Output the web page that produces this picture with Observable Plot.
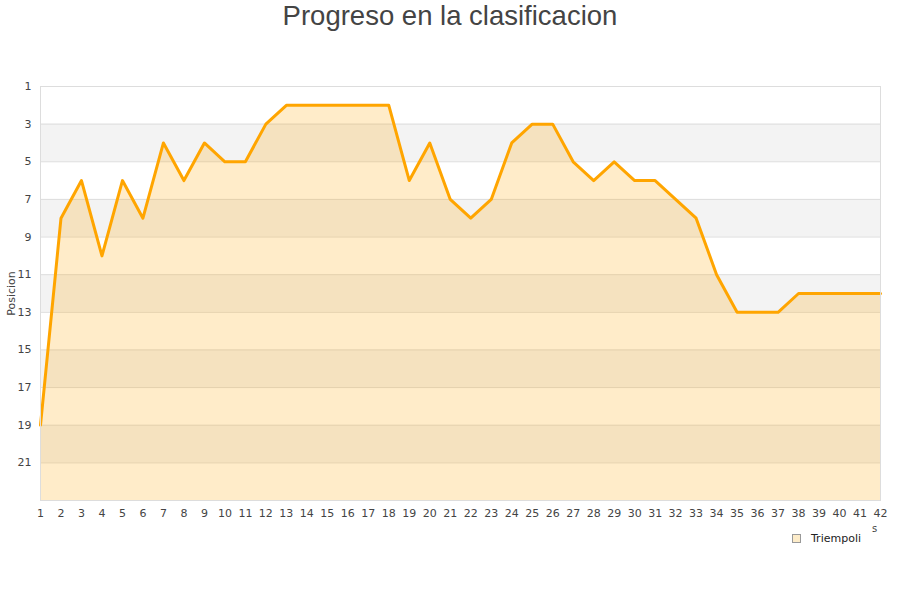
<!DOCTYPE html>
<html><head><meta charset="utf-8">
<script src="https://cdn.jsdelivr.net/npm/d3@7"></script>
<script src="https://cdn.jsdelivr.net/npm/@observablehq/plot@0.6"></script>
<style>
body{margin:0;background:#fff}
#wrap{position:relative;width:900px;height:600px;font-family:"DejaVu Sans",sans-serif;overflow:hidden}
#title{position:absolute;top:0;left:0;width:900px;text-align:center;font-family:"Liberation Sans",Arial,sans-serif;font-size:27.5px;color:#444;line-height:32px}
#chart{position:absolute;top:40px;left:0}
#legend{position:absolute;top:532px;left:792px;font-size:11px;color:#222;display:flex;align-items:center}
#legend .sw{width:7px;height:7px;border:1px solid #999;background:#fdecc9;margin-right:10px}
#xl{position:absolute;top:523px;left:872px;font-size:10px;color:#444}
</style></head>
<body>
<div id="wrap">
  <div id="title">Progreso en la clasificacion</div>
  <div id="chart"></div>
  <div id="legend"><span class="sw"></span><span>Triempoli</span></div>
  <div id="xl">s</div>
</div>
<script>
const jornadas = d3.range(1, 43);
const posiciones = [19,8,6,10,6,8,4,6,4,5,5,3,2,2,2,2,2,2,6,4,7,8,7,4,3,3,5,6,5,6,6,7,8,11,13,13,13,12,12,12,12,12];
const yTicks = [1,3,5,7,9,11,13,15,17,19,21];
const yBottom = 23;
const team = "Triempoli";

const data = jornadas.map((j, i) => ({j, pos: posiciones[i]}));
const bands = yTicks.filter((t, i) => i % 2 === 1).map(t => ({a: t, b: t + 2}));

const chart = Plot.plot({
  width: 900,
  height: 500,
  marginTop: 46,
  marginBottom: 40,
  marginLeft: 40,
  marginRight: 20,
  style: {fontFamily: "DejaVu Sans, sans-serif", fontSize: "11px", color: "#444", background: "#fff"},
  x: {domain: [1, 42], ticks: jornadas, tickFormat: d => d, tickSize: 0, tickPadding: 9, label: null},
  y: {domain: [yBottom, 1], ticks: yTicks, tickSize: 0, tickPadding: 9, label: null},
  marks: [
    Plot.rectY(bands, {x1: 1, x2: 42, y1: "a", y2: "b", fill: "#f3f3f3"}),
    Plot.ruleY(yTicks, {stroke: "#ddd", strokeWidth: 1}),
    Plot.areaY(data, {x: "j", y1: d => yBottom, y2: "pos", fill: "orange", fillOpacity: 0.21}),
    Plot.line(data, {x: "j", y: "pos", stroke: "#ffa500", strokeWidth: 3}),
    Plot.frame({stroke: "#ddd"}),
    Plot.text(["Posicion"], {frameAnchor: "left", textAnchor: "middle", dx: -29, rotate: -90, fill: "#444", fontSize: 11})
  ]
});
document.getElementById("chart").appendChild(chart);
</script>
</body></html>
